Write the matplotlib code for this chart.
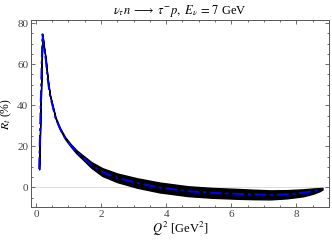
import matplotlib
matplotlib.use('Agg')
import matplotlib.pyplot as plt
import numpy as np
from matplotlib.ticker import MultipleLocator

# central curve and band half-width
q2 = [0.10, 0.15, 0.20, 0.25, 0.30, 0.36, 0.43, 0.50, 0.60, 0.74, 0.90, 1.07, 1.25, 1.43,
      1.70, 2.04, 2.50, 3.10, 3.80, 4.67, 5.40, 6.18, 6.70, 7.20, 7.70, 8.20, 8.50, 8.70, 8.80]
rt = [9.0, 42.0, 74.5, 68.0, 62.7, 53.0, 45.0, 40.5, 34.0, 28.6, 24.0, 20.5, 17.3, 14.8,
      11.0, 7.5, 4.7, 2.2, 0.0, -1.8, -2.6, -3.1, -3.4, -3.6, -3.3, -2.6, -1.8, -1.1, -0.6]
band = [0.2, 0.2, 0.3, 0.3, 0.3, 0.3, 0.3, 0.3, 0.35, 0.4, 0.5, 0.6, 0.8, 1.0,
        1.4, 1.9, 2.1, 2.3, 2.4, 2.4, 2.4, 2.4, 2.3, 2.2, 2.0, 1.7, 1.3, 0.8, 0.4]

plt.rcParams['font.family'] = ['Liberation Serif', 'DejaVu Serif']
plt.rcParams['mathtext.fontset'] = 'stix'

fig = plt.figure(figsize=(3.32, 2.41), dpi=100)
ax = fig.add_axes([31/332, 34/241, 298/332, 187/241])

x = np.array(q2)
y = np.array(rt)
w = np.array(band)
ax.axhline(0, color='#d8d8d8', lw=0.6, zorder=0)
ax.fill_between(x, y - w, y + w, color='black', lw=1.0, edgecolor='black')
ax.plot(x, y, color='blue', lw=1.4, ls=(0, (6, 2, 1.5, 2)))

ax.set_xlim(-0.15, 9.0)
ax.set_ylim(-9.5, 81.5)
ax.xaxis.set_major_locator(MultipleLocator(2))
ax.xaxis.set_minor_locator(MultipleLocator(0.5))
ax.yaxis.set_major_locator(MultipleLocator(20))
ax.yaxis.set_minor_locator(MultipleLocator(5))
ax.tick_params(which='both', direction='in', top=True, right=True, colors='#555555',
               labelcolor='#444444', labelsize=8, width=0.6, pad=2)
ax.tick_params(which='major', length=3)
ax.tick_params(which='minor', length=1.5)
for s in ax.spines.values():
    s.set_color('#555555')
    s.set_linewidth(0.7)

ax.set_title(r'$\nu_\tau n \;\longrightarrow\; \tau^{-} p,\ E_\nu \,=\, 7$ GeV', fontsize=9, pad=4)
ax.set_xlabel(r'$Q^2$ [GeV$^2$]', fontsize=9, labelpad=1)
ax.set_ylabel(r'$R_t$ (%)', fontsize=8.5, labelpad=2)

fig.savefig('out.png', dpi=100)
